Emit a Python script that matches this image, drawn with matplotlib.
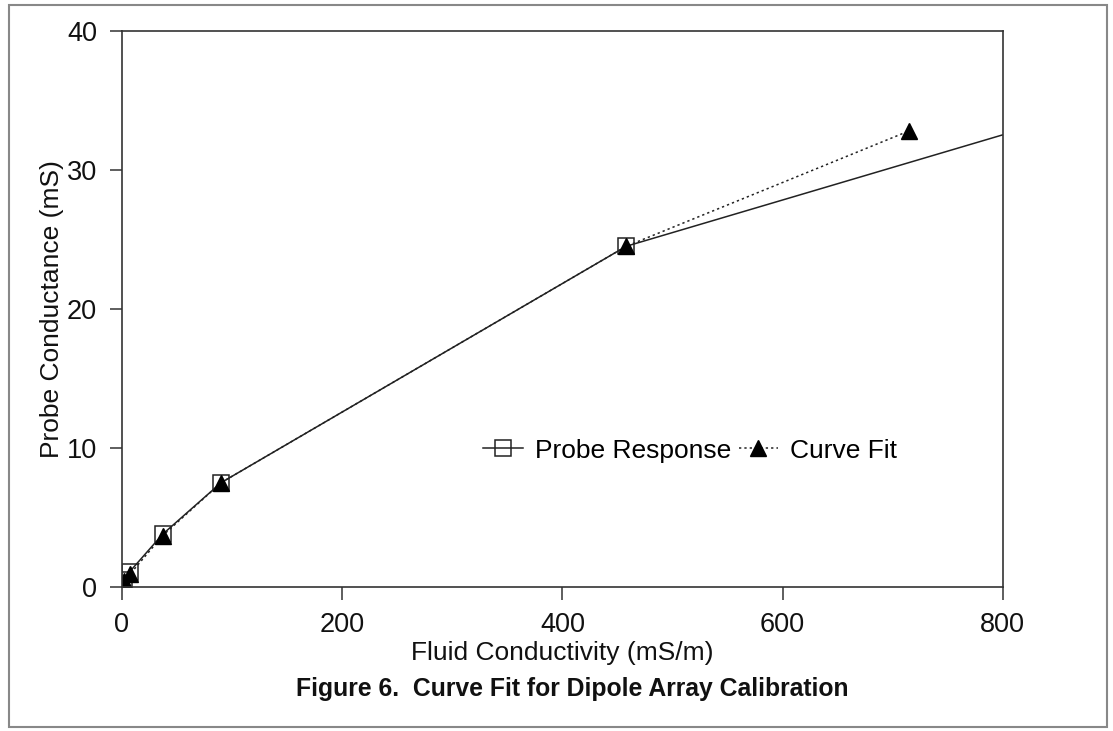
import matplotlib
matplotlib.use("Agg")
import matplotlib.pyplot as plt
from matplotlib.patches import Rectangle

plt.rcParams['font.family'] = ['Liberation Sans', 'DejaVu Sans']

# Data
probe_x = [2, 7, 37, 90, 458, 1000]
probe_y = [0.5, 1.1, 3.8, 7.5, 24.5, 37.2]
fit_x = [2, 7, 37, 90, 458, 715]
fit_y = [0.4, 0.9, 3.7, 7.5, 24.5, 32.8]
x_ticks = [0, 200, 400, 600, 800]
y_ticks = [0, 10, 20, 30, 40]

fig = plt.figure(figsize=(11.13, 7.31), dpi=100)
ax = fig.add_axes([0.1096, 0.197, 0.7914, 0.761])

ax.plot(probe_x, probe_y, color='#222222', lw=1.1, marker='s', ms=12,
        mfc='none', mec='#222222', mew=1.1, label='Probe Response')
ax.plot(fit_x, fit_y, color='#222222', lw=1.1, ls=(0, (1.5, 2)), marker='^',
        ms=11, mfc='black', mec='black', label='Curve Fit')

ax.set_xlim(0, 800)
ax.set_ylim(0, 40)
ax.set_xticks(x_ticks)
ax.set_yticks(y_ticks)
ax.tick_params(axis='both', direction='out', length=9, width=1.1,
               colors='#333333', labelcolor='#111111', labelsize=19.5, pad=9)
for s in ax.spines.values():
    s.set_color('#333333')
    s.set_linewidth(1.2)

ax.set_xlabel('Fluid Conductivity (mS/m)', fontsize=19, color='#111111', labelpad=2)
ax.set_ylabel('Probe Conductance (mS)', fontsize=19, color='#111111', labelpad=2)

leg = ax.legend(loc='center', bbox_to_anchor=(0.645, 0.245), ncol=2, frameon=False,
                fontsize=19, handlelength=1.5, handletextpad=0.45, columnspacing=0.3)

fig.text(0.514, 0.057, 'Figure 6.  Curve Fit for Dipole Array Calibration',
         ha='center', va='center', fontsize=17.8, fontweight='bold', color='#111111')

fig.patches.append(Rectangle((0.008, 0.006), 0.987, 0.987, transform=fig.transFigure,
                             fill=False, edgecolor='#888888', lw=1.5))

fig.savefig('out.png', dpi=100)
